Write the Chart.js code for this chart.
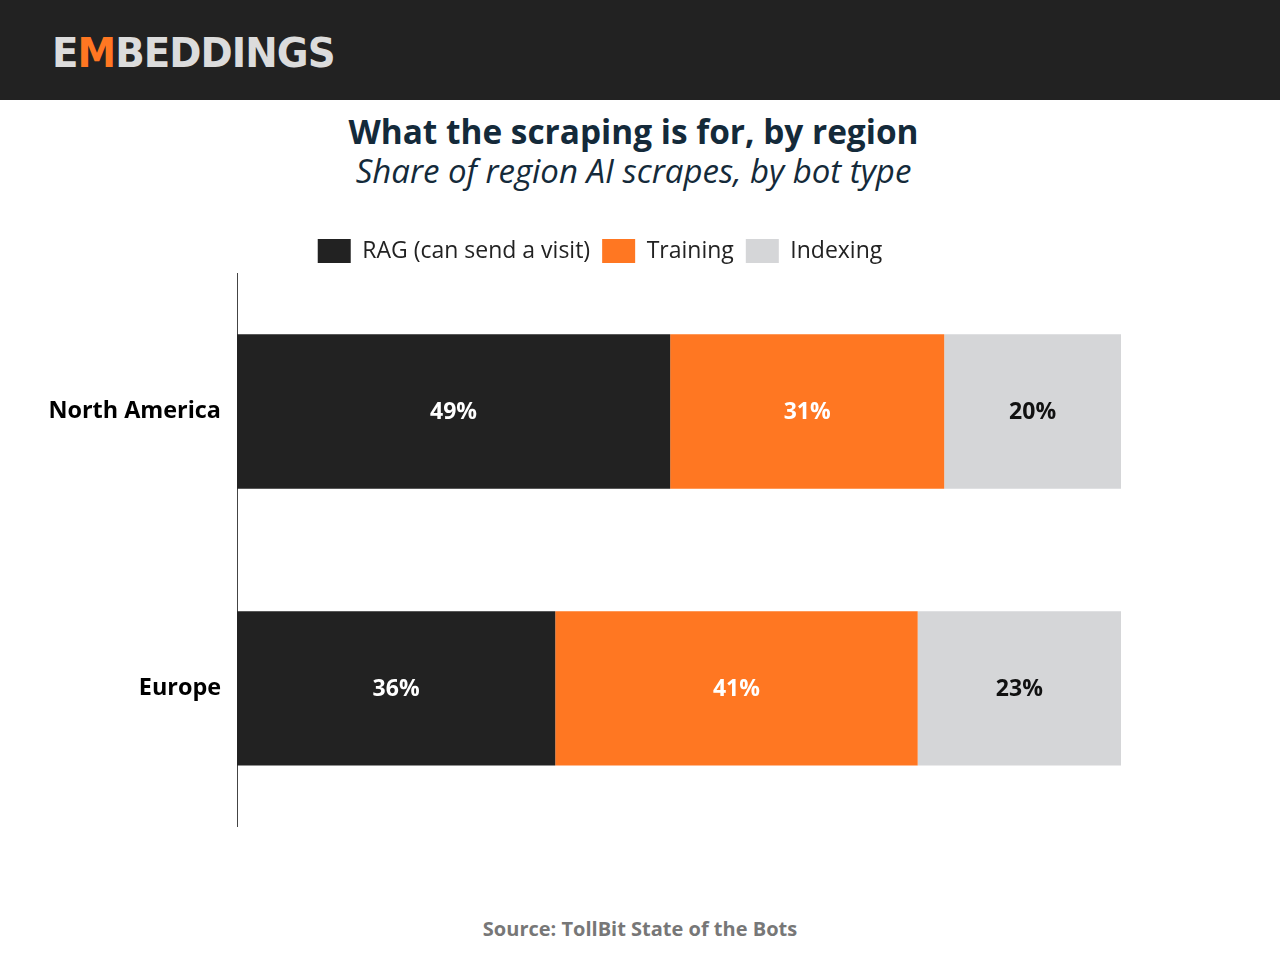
<!DOCTYPE html>
<html>
<head>
<meta charset="utf-8">
<title>What the scraping is for, by region</title>
<script src="https://cdn.jsdelivr.net/npm/chart.js@4.4.1/dist/chart.umd.min.js"></script>
<style>
    html, body { margin: 0; padding: 0; background: #fff; }
    body { width: 1280px; height: 960px; position: relative; overflow: hidden; font-family: "Open Sans", sans-serif; }
    #header { position: absolute; left: 0; top: 0; width: 1280px; height: 100px; background: #222222; }
    #logo { position: absolute; left: 52px; top: 27px; font-family: "DejaVu Sans", sans-serif; font-weight: bold; font-size: 40px; letter-spacing: -1px; color: #dcdcdc; line-height: 52px; transform-origin: 0 0; transform: scaleX(0.97); }
    #logo .m { color: #ff7722; }
    #title { position: absolute; left: 0; top: 109px; width: 1267px; text-align: center; font-weight: 700; font-size: 33.4px; color: #142a3a; line-height: 44px; }
    #subtitle { position: absolute; left: 0; top: 149px; width: 1267px; text-align: center; font-style: italic; font-weight: 400; font-size: 33px; color: #142a3a; line-height: 44px; }
    #wrap { position: absolute; left: 0; top: 227px; width: 1280px; height: 630px; }
    #source { position: absolute; left: 0; top: 914px; width: 1280px; text-align: center; font-weight: 700; font-size: 20px; color: #777777; line-height: 30px; }
</style>
</head>
<body>
<div id="header"><div id="logo">E<span class="m">M</span>BEDDINGS</div></div>
<div id="title">What the scraping is for, by region</div>
<div id="subtitle">Share of region AI scrapes, by bot type</div>
<div id="wrap"><canvas id="chart"></canvas></div>
<div id="source">Source: TollBit State of the Bots</div>

<script>
// Regions (categories)
const regions = ['North America', 'Europe'];

// Share of AI scrapes per bot type, in percent
const ragShare = [49, 36];
const trainingShare = [31, 41];
const indexingShare = [20, 23];

const seriesNames = ['RAG (can send a visit)', 'Training', 'Indexing'];
const seriesColors = ['#222222', '#ff7722', '#d5d6d8'];
const labelColors = ['#ffffff', '#ffffff', '#111111'];

// Draw the percentage inside each bar segment
const segmentLabels = {
    id: 'segmentLabels',
    afterDatasetsDraw(chart) {
        const ctx = chart.ctx;
        ctx.save();
        ctx.font = 'bold 23px "Open Sans"';
        ctx.textAlign = 'center';
        ctx.textBaseline = 'middle';
        chart.data.datasets.forEach((ds, i) => {
            const meta = chart.getDatasetMeta(i);
            meta.data.forEach((bar, j) => {
                const cx = (bar.x + bar.base) / 2;
                ctx.fillStyle = labelColors[i];
                ctx.fillText(ds.data[j] + '%', cx, bar.y + 1);
            });
        });
        ctx.restore();
    }
};

function makeDataset(idx, values) {
    return {
        label: seriesNames[idx],
        data: values,
        backgroundColor: seriesColors[idx],
        borderWidth: 0,
        categoryPercentage: 0.557,
        barPercentage: 1
    };
}

function createChart() {
    const ctx = document.getElementById('chart').getContext('2d');
    new Chart(ctx, {
        type: 'bar',
        data: {
            labels: regions,
            datasets: [
                makeDataset(0, ragShare),
                makeDataset(1, trainingShare),
                makeDataset(2, indexingShare)
            ]
        },
        options: {
            indexAxis: 'y',
            responsive: true,
            maintainAspectRatio: false,
            animation: false,
            layout: {
                padding: { left: 0, right: 80, top: 0, bottom: 14 }
            },
            scales: {
                x: {
                    stacked: true,
                    min: 0,
                    max: 100,
                    display: false
                },
                y: {
                    stacked: true,
                    grid: { drawOnChartArea: false, drawTicks: false },
                    border: { display: true, color: '#444444', width: 1 },
                    ticks: {
                        color: '#000000',
                        padding: 16,
                        font: { family: '"Open Sans"', size: 23.4, weight: 'bold' }
                    },
                    afterFit: (scale) => { scale.width = 237; }
                },
                // empty spacer on the right so the legend sits where the original has it
                spacer: {
                    type: 'linear',
                    axis: 'y',
                    position: 'right',
                    grid: { display: false },
                    border: { display: false },
                    ticks: { display: false },
                    afterFit: (scale) => { scale.width = 79; }
                }
            },
            plugins: {
                legend: {
                    position: 'top',
                    labels: {
                        boxWidth: 33,
                        boxHeight: 24,
                        padding: 12,
                        color: '#222222',
                        font: { family: '"Open Sans"', size: 23 }
                    }
                },
                tooltip: { enabled: false }
            }
        },
        plugins: [segmentLabels]
    });
}

document.addEventListener('DOMContentLoaded', createChart);
</script>
</body>
</html>
